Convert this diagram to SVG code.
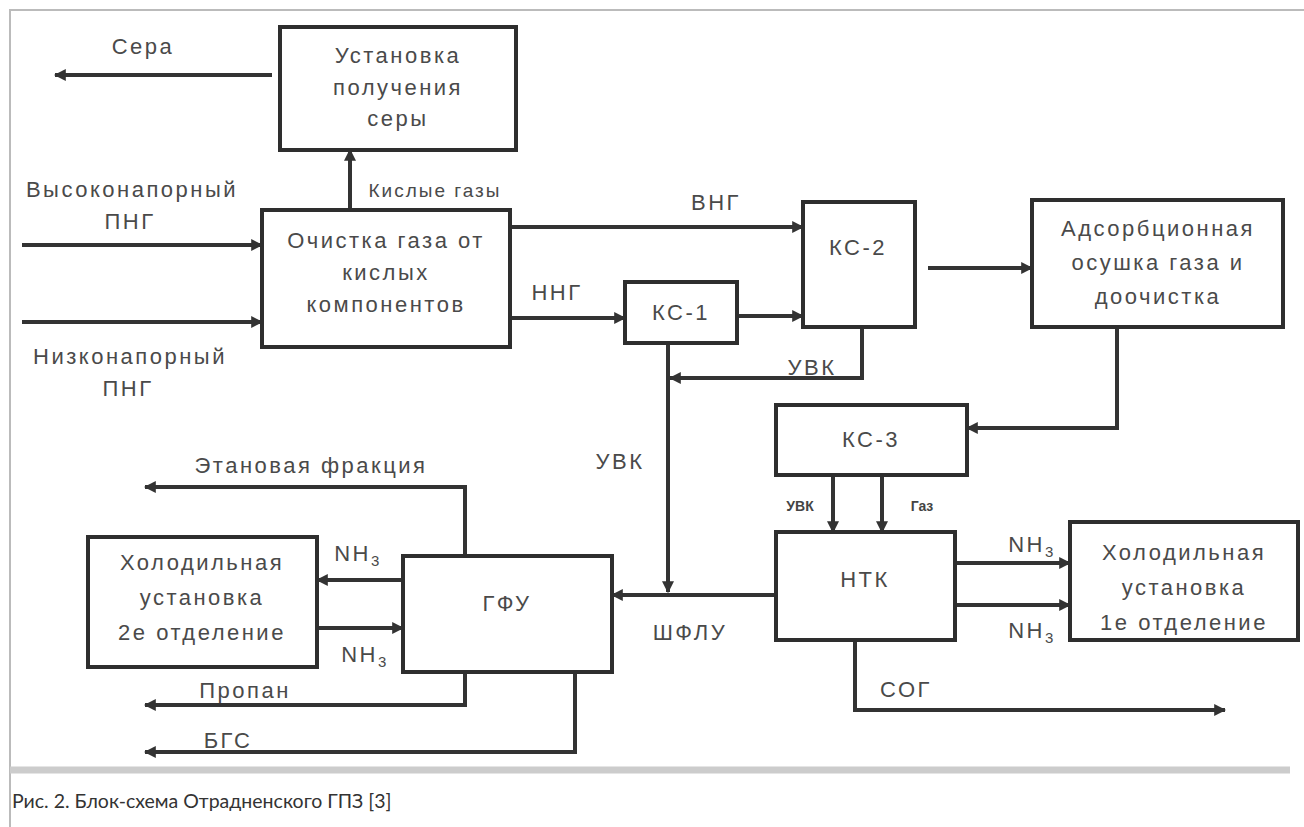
<svg xmlns="http://www.w3.org/2000/svg" width="1304" height="827" viewBox="0 0 1304 827">
<defs>
<marker id="ah" viewBox="0 0 10 10" refX="9" refY="5" markerWidth="3" markerHeight="3" orient="auto" markerUnits="strokeWidth">
<path d="M0,0 L10,5 L0,10 z" fill="#333"/>
</marker>
<style>
.box{fill:#fff;stroke:#2e2e2e;stroke-width:4}
.ln{fill:none;stroke:#333;stroke-width:4;marker-end:url(#ah)}
.t{font-family:"Liberation Sans",Arial,sans-serif;font-size:22px;fill:#4a4a4a;letter-spacing:2.5px;text-anchor:middle}
.s{font-family:"Liberation Sans",Arial,sans-serif;font-size:14px;font-weight:bold;fill:#444;text-anchor:middle}
.cap{font-family:"Lato","Liberation Sans",sans-serif;font-size:19.5px;fill:#333}
</style>
</defs>
<rect width="1304" height="827" fill="#fff"/>
<path d="M10,827 V10 H1304" fill="none" stroke="#bbb" stroke-width="2"/>
<line x1="10" y1="770" x2="1290" y2="770" stroke="#ccc" stroke-width="7"/>
<text class="cap" x="12" y="808">Рис. 2. Блок-схема Отрадненского ГПЗ [3]</text>

<g id="connectors">
<path class="ln" d="M272,75 H55"/>
<path class="ln" d="M22,245 H262"/>
<path class="ln" d="M22,322 H262"/>
<path class="ln" d="M350,210 V150"/>
<path class="ln" d="M510,227 H803"/>
<path class="ln" d="M510,318 H625"/>
<path class="ln" d="M737,316 H803"/>
<path class="ln" d="M928,268 H1032"/>
<path class="ln" d="M1117,327 V428 H967"/>
<path class="ln" d="M862,327 V378 H670"/>
<path class="ln" d="M668,343 V592"/>
<path class="ln" d="M776,595 H612"/>
<path class="ln" d="M833,475 V532"/>
<path class="ln" d="M882,475 V532"/>
<path class="ln" d="M955,563 H1070"/>
<path class="ln" d="M955,605 H1070"/>
<path class="ln" d="M855,640 V710 H1225"/>
<path class="ln" d="M403,580 H317"/>
<path class="ln" d="M317,628 H403"/>
<path class="ln" d="M465,556 V487 H145"/>
<path class="ln" d="M465,672 V705 H145"/>
<path class="ln" d="M575,672 V752 H145"/>
</g>

<g id="labels">
<text class="t" x="143" y="54">Сера</text>
<text class="t" x="132" y="197">Высоконапорный</text>
<text class="t" x="130" y="229">ПНГ</text>
<text class="t" x="130" y="364">Низконапорный</text>
<text class="t" x="128" y="396">ПНГ</text>
<text class="t" x="435" y="197" style="font-size:19px;letter-spacing:2px">Кислые газы</text>
<text class="t" x="716" y="210">ВНГ</text>
<text class="t" x="557" y="300">ННГ</text>
<text class="t" x="812" y="375">УВК</text>
<text class="t" x="620" y="469">УВК</text>
<text class="t" x="311" y="473">Этановая фракция</text>
<text class="t" x="690" y="640">ШФЛУ</text>
<text class="s" x="800" y="511">УВК</text>
<text class="s" x="922" y="511">Газ</text>
<text class="t" x="1032" y="552">NH<tspan dy="5" font-size="15">3</tspan></text>
<text class="t" x="1032" y="638">NH<tspan dy="5" font-size="15">3</tspan></text>
<text class="t" x="358" y="561">NH<tspan dy="5" font-size="15">3</tspan></text>
<text class="t" x="365" y="662">NH<tspan dy="5" font-size="15">3</tspan></text>
<text class="t" x="245" y="698">Пропан</text>
<text class="t" x="228" y="748">БГС</text>
<text class="t" x="906" y="697">СОГ</text>
</g>

<g id="n_sera"><rect class="box" x="280" y="27" width="236" height="123"/>
<text class="t" x="398" y="63">Установка</text><text class="t" x="398" y="95">получения</text><text class="t" x="398" y="126">серы</text></g>

<g id="n_ochistka"><rect class="box" x="262" y="210" width="248" height="137"/>
<text class="t" x="386" y="248">Очистка газа от</text><text class="t" x="386" y="280">кислых</text><text class="t" x="386" y="312">компонентов</text></g>

<g id="n_ks1"><rect class="box" x="625" y="282" width="112" height="61"/>
<text class="t" x="681" y="320">КС-1</text></g>

<g id="n_ks2"><rect class="box" x="803" y="202" width="112" height="125"/>
<text class="t" x="858" y="255">КС-2</text></g>

<g id="n_adsorb"><rect class="box" x="1032" y="200" width="251" height="127"/>
<text class="t" x="1158" y="236">Адсорбционная</text><text class="t" x="1158" y="270">осушка газа и</text><text class="t" x="1158" y="304">доочистка</text></g>

<g id="n_ks3"><rect class="box" x="776" y="405" width="191" height="70"/>
<text class="t" x="871" y="447">КС-3</text></g>

<g id="n_ntk"><rect class="box" x="776" y="532" width="179" height="108"/>
<text class="t" x="865" y="587">НТК</text></g>

<g id="n_hol1"><rect class="box" x="1070" y="522" width="228" height="118"/>
<text class="t" x="1184" y="560">Холодильная</text><text class="t" x="1184" y="595">установка</text><text class="t" x="1184" y="630">1е отделение</text></g>

<g id="n_gfu"><rect class="box" x="403" y="556" width="209" height="116"/>
<text class="t" x="507" y="611">ГФУ</text></g>

<g id="n_hol2"><rect class="box" x="88" y="537" width="229" height="130"/>
<text class="t" x="202" y="570">Холодильная</text><text class="t" x="202" y="605">установка</text><text class="t" x="202" y="640">2е отделение</text></g>
</svg>
